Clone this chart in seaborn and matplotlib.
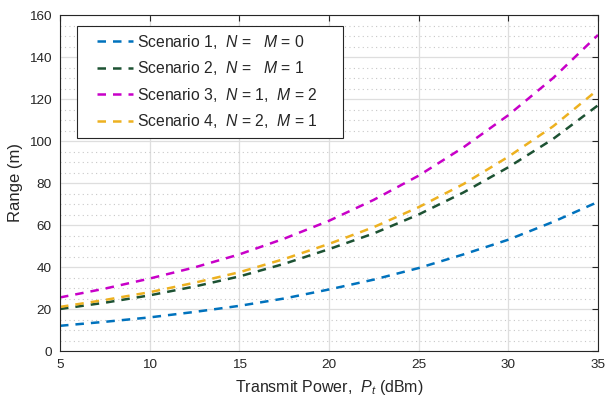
import numpy as np
import pandas as pd
import matplotlib
matplotlib.use("Agg")
import matplotlib.pyplot as plt
import seaborn as sns
from matplotlib.ticker import MultipleLocator
from matplotlib.legend_handler import HandlerLine2D

# Data
power_dbm = [5, 7.5, 10, 12.5, 15, 17.5, 20, 22.5, 25, 27.5, 30, 32.5, 35]
range_s1 = [12, 13.9, 16, 18.6, 21.5, 25, 29.3, 34, 39.5, 46, 53, 61.5, 71]
range_s2 = [20, 23, 26.5, 30.7, 35.5, 41.5, 48.5, 56, 65, 75.5, 87.5, 101, 117]
range_s3 = [25.5, 29.7, 34.5, 39.8, 46, 53.5, 62, 72, 83.5, 97, 112.3, 130, 150.5]
range_s4 = [21, 24.3, 28, 32.5, 37.5, 43.8, 51, 59, 68.5, 79.5, 92.5, 107, 124.5]

labels = [
    r"Scenario 1,  $N$ =   $M$ = 0",
    r"Scenario 2,  $N$ =   $M$ = 1",
    r"Scenario 3,  $N$ = 1,  $M$ = 2",
    r"Scenario 4,  $N$ = 2,  $M$ = 1",
]
colors = ["#0072BD", "#1D5233", "#C800C8", "#EDB120"]
x_ticks = [5, 10, 15, 20, 25, 30, 35]
y_ticks = [0, 20, 40, 60, 80, 100, 120, 140, 160]

frames = []
for lab, vals in zip(labels, [range_s1, range_s2, range_s3, range_s4]):
    frames.append(pd.DataFrame({"power": power_dbm, "range": vals, "scenario": lab}))
df = pd.concat(frames, ignore_index=True)

sns.set_theme(style="white")
plt.rcParams["font.family"] = ["Liberation Sans", "DejaVu Sans"]
plt.rcParams["mathtext.fontset"] = "custom"
plt.rcParams["mathtext.rm"] = "Liberation Sans"
plt.rcParams["mathtext.it"] = "Liberation Sans:italic"

fig = plt.figure(figsize=(6.07, 4.01), dpi=100)
ax = fig.add_axes([60 / 607, 1 - 351 / 401, 538 / 607, 336 / 401])

sns.lineplot(data=df, x="power", y="range", hue="scenario", palette=colors,
             ax=ax, linewidth=1.8, legend=True, sort=False)
DASH = (3.4, 2.8)
for line in ax.get_lines():
    line.set_dashes(DASH)

ax.set_xlim(5, 35)
ax.set_ylim(0, 160)
ax.set_xticks(x_ticks)
ax.set_yticks(y_ticks)
ax.yaxis.set_minor_locator(MultipleLocator(5))
ax.grid(which="major", color="#DEDEDE", linewidth=0.9, linestyle="-")
ax.grid(which="minor", axis="y", color="#C8C8C8", linewidth=0.8, linestyle=(0, (1, 3)))
ax.set_axisbelow(True)

ax.tick_params(which="major", direction="in", length=4, width=0.8, color="#262626",
               top=True, right=True, labelsize=9.7, labelcolor="#262626", pad=6)
ax.tick_params(which="minor", length=0)
for sp in ax.spines.values():
    sp.set_color("#262626")
    sp.set_linewidth(0.8)

ax.set_xlabel(r"Transmit Power,  $P_t$ (dBm)", fontsize=11.5, color="#262626", labelpad=5)
ax.set_ylabel("Range (m)", fontsize=12, color="#262626", labelpad=4)


class ShiftHandler(HandlerLine2D):
    def __init__(self, shift, **kw):
        super().__init__(**kw)
        self.shift = shift

    def create_artists(self, legend, orig_handle, xdescent, ydescent, width,
                       height, fontsize, trans):
        s = self.shift * fontsize
        return super().create_artists(legend, orig_handle, xdescent - s, ydescent,
                                       width - s, height, fontsize, trans)


handles, labs = ax.get_legend_handles_labels()
for h in handles:
    h.set_dashes(DASH)
FS = 11.3
fs_px = FS * 100 / 72
shift = 13.0 / fs_px
hmap = {h: ShiftHandler(shift) for h in handles}
leg = ax.legend(handles, labs, loc="upper left",
                bbox_to_anchor=(17 / 538, 325.5 / 336 - 0.01, 266 / 538, 0.01),
                mode="expand", handler_map=hmap,
                borderaxespad=0, fontsize=FS, frameon=True, fancybox=False,
                edgecolor="#262626", framealpha=1,
                handlelength=shift + 36 / fs_px,
                handletextpad=0.25, borderpad=0.45, labelspacing=0.55)
leg.get_frame().set_linewidth(0.8)

fig.savefig("out.png", dpi=100)
